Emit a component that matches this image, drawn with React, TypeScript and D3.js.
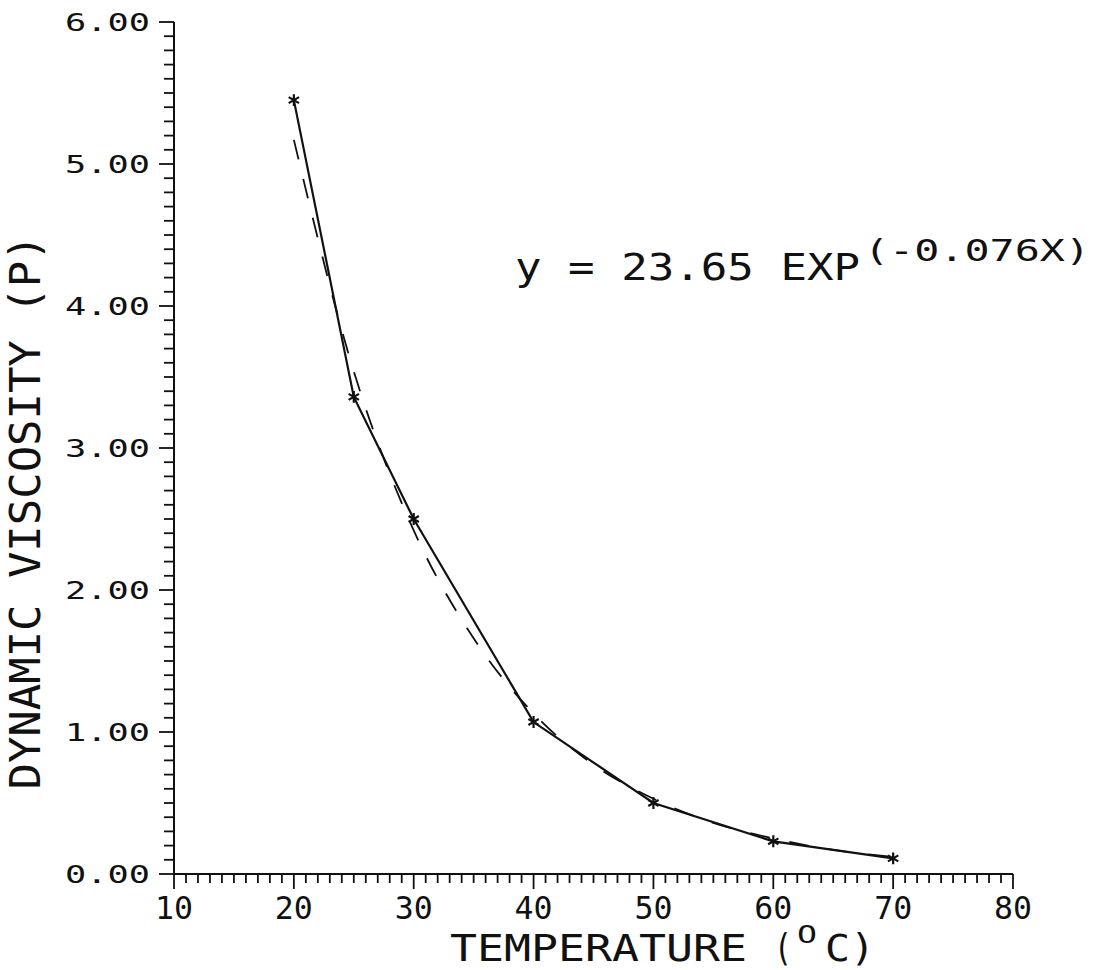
import { useRef, useEffect } from 'react'
import * as d3 from 'd3'

// measured points (solid line with stars)
const temperatures = [20, 25, 30, 40, 50, 60, 70]
const viscosities = [5.45, 3.36, 2.5, 1.07, 0.5, 0.23, 0.11]

// dashed fitted curve
const fitTemperatures = [20, 25, 30, 35, 40, 45, 50, 55, 60, 65, 70]
const fitViscosities = [5.17, 3.54, 2.42, 1.66, 1.13, 0.77, 0.53, 0.36, 0.25, 0.17, 0.12]

const xTicks = [10, 20, 30, 40, 50, 60, 70, 80]
const xTickLabels = ['10', '20', '30', '40', '50', '60', '70', '80']
const yTicks = [0, 1, 2, 3, 4, 5, 6]
const yTickLabels = ['0.00', '1.00', '2.00', '3.00', '4.00', '5.00', '6.00']

const FONT = '"DejaVu Sans Mono", monospace'

const App = () => {
  const svgRef = useRef<SVGSVGElement>(null)

  useEffect(() => {
    const svg = d3.select(svgRef.current)
    svg.selectAll('*').remove()

    const xScale = d3.scaleLinear().domain([10, 80]).range([174, 1013])
    const yScale = d3.scaleLinear().domain([0, 6]).range([874, 22])

    const ink = '#111'

    // axes lines
    svg.append('line')
      .attr('x1', xScale(10)).attr('x2', xScale(10))
      .attr('y1', yScale(0)).attr('y2', yScale(6))
      .attr('stroke', ink).attr('stroke-width', 2)
    svg.append('line')
      .attr('x1', xScale(10)).attr('x2', xScale(80))
      .attr('y1', yScale(0)).attr('y2', yScale(0))
      .attr('stroke', ink).attr('stroke-width', 2)

    // y ticks, minor every 0.1
    const yMinor = d3.range(0, 61).map((i) => i / 10)
    svg.append('g').selectAll('line')
      .data(yMinor)
      .join('line')
      .attr('x1', (d, i) => (i % 10 === 0 ? xScale(10) - 15 : xScale(10) - 10))
      .attr('x2', xScale(10))
      .attr('y1', (d) => yScale(d))
      .attr('y2', (d) => yScale(d))
      .attr('stroke', ink).attr('stroke-width', 1.8)

    // x ticks, minor every 1
    const xMinor = d3.range(10, 81)
    svg.append('g').selectAll('line')
      .data(xMinor)
      .join('line')
      .attr('x1', (d) => xScale(d))
      .attr('x2', (d) => xScale(d))
      .attr('y1', yScale(0))
      .attr('y2', (d) => (d % 10 === 0 ? yScale(0) + 15 : yScale(0) + 9))
      .attr('stroke', ink).attr('stroke-width', 1.8)

    // y tick labels
    svg.append('g').selectAll('text')
      .data(yTicks)
      .join('text')
      .attr('x', 65)
      .attr('y', (d) => yScale(d) + 9)
      .attr('textLength', 85)
      .attr('lengthAdjust', 'spacingAndGlyphs')
      .attr('font-family', FONT)
      .attr('font-size', 25)
      .attr('fill', ink)
      .text((d, i) => yTickLabels[i])

    // x tick labels
    svg.append('g').selectAll('text')
      .data(xTicks)
      .join('text')
      .attr('x', (d) => xScale(d) - 19)
      .attr('y', 919)
      .attr('textLength', 38)
      .attr('lengthAdjust', 'spacingAndGlyphs')
      .attr('font-family', FONT)
      .attr('font-size', 32)
      .attr('fill', ink)
      .text((d, i) => xTickLabels[i])

    // x axis title
    const xTitle = svg.append('text')
      .attr('font-family', FONT)
      .attr('font-size', 37)
      .attr('fill', ink)
      .attr('y', 961)
    xTitle.append('tspan').attr('x', 450).attr('textLength', 297)
      .attr('lengthAdjust', 'spacingAndGlyphs').text('TEMPERATURE')
    xTitle.append('tspan').attr('x', 774).attr('textLength', 18)
      .attr('lengthAdjust', 'spacingAndGlyphs').text('(')
    xTitle.append('tspan').attr('x', 797).attr('y', 943).attr('font-size', 24)
      .attr('textLength', 20).attr('lengthAdjust', 'spacingAndGlyphs').text('O')
    xTitle.append('tspan').attr('x', 825).attr('y', 961).attr('textLength', 50)
      .attr('lengthAdjust', 'spacingAndGlyphs').text('C)')

    // y axis title
    svg.append('text')
      .attr('transform', 'translate(40, 512) rotate(-90)')
      .attr('text-anchor', 'middle')
      .attr('textLength', 555)
      .attr('lengthAdjust', 'spacingAndGlyphs')
      .attr('font-family', FONT)
      .attr('font-size', 42)
      .attr('fill', ink)
      .text('DYNAMIC VISCOSITY (P)')

    // equation
    const eq = svg.append('text')
      .attr('font-family', FONT)
      .attr('fill', ink)
    eq.append('tspan').attr('x', 515).attr('y', 280).attr('font-size', 38)
      .attr('textLength', 345).attr('lengthAdjust', 'spacingAndGlyphs')
      .text('y = 23.65 EXP')
    eq.append('tspan').attr('x', 864).attr('y', 261).attr('font-size', 30)
      .attr('textLength', 226).attr('lengthAdjust', 'spacingAndGlyphs')
      .text('(-0.076X)')

    // dashed fit curve
    const fitData = fitTemperatures.map((t, i) => [t, fitViscosities[i]] as [number, number])
    const fitLine = d3.line<[number, number]>()
      .x((d) => xScale(d[0]))
      .y((d) => yScale(d[1]))
      .curve(d3.curveMonotoneX)
    svg.append('path')
      .attr('d', fitLine(fitData))
      .attr('fill', 'none')
      .attr('stroke', ink)
      .attr('stroke-width', 1.8)
      .attr('stroke-dasharray', '20 20')

    // solid measured line
    const data = temperatures.map((t, i) => [t, viscosities[i]] as [number, number])
    const solidLine = d3.line<[number, number]>()
      .x((d) => xScale(d[0]))
      .y((d) => yScale(d[1]))
    svg.append('path')
      .attr('d', solidLine(data))
      .attr('fill', 'none')
      .attr('stroke', ink)
      .attr('stroke-width', 2.2)

    const star = d3.symbol().type(d3.symbolAsterisk).size(100)
    svg.append('g').selectAll('path')
      .data(data)
      .join('path')
      .attr('transform', (d) => `translate(${xScale(d[0])}, ${yScale(d[1])})`)
      .attr('d', star())
      .attr('fill', 'none')
      .attr('stroke', ink)
      .attr('stroke-width', 2.2)
  }, [])

  return (
    <svg
      ref={svgRef}
      width={1102}
      height={970}
      style={{ position: 'absolute', left: 0, top: 0, background: '#fff' }}
    />
  )
}

export default App
